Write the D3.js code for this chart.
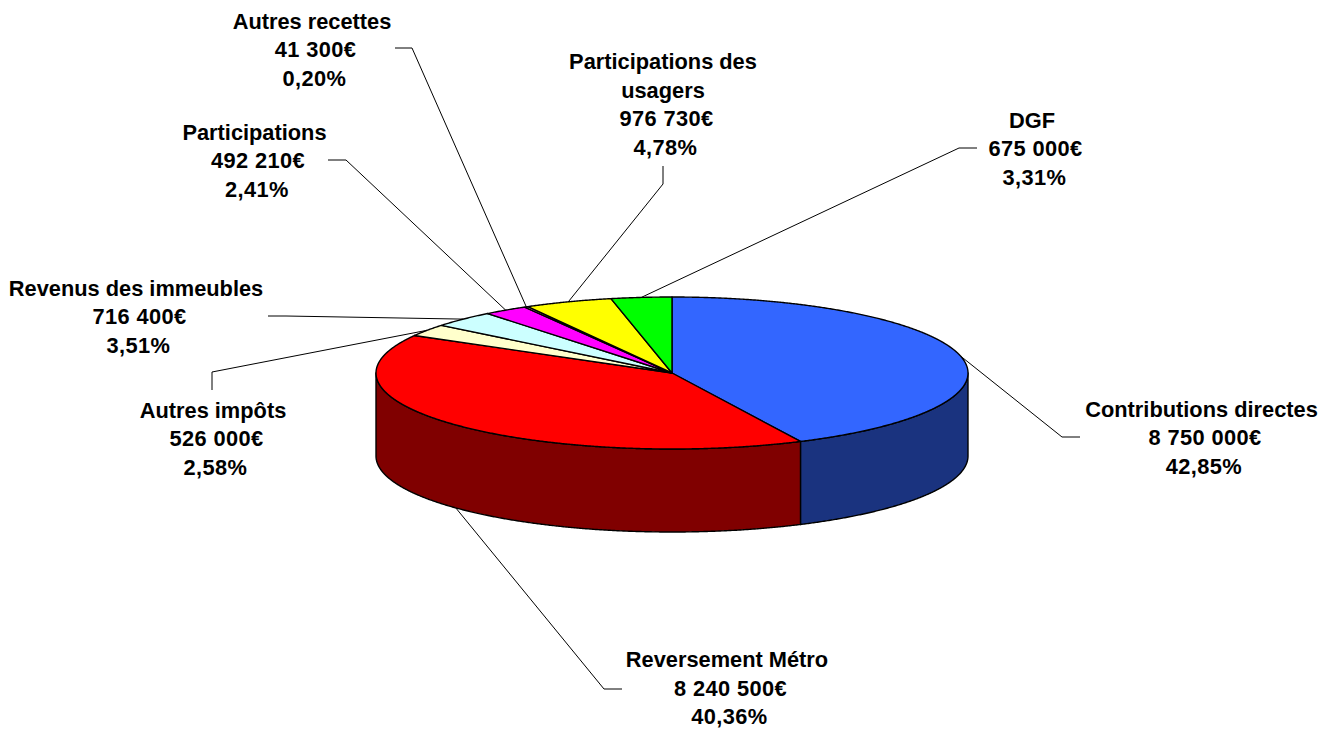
<!DOCTYPE html>
<html>
<head>
<meta charset="utf-8">
<script src="https://cdn.jsdelivr.net/npm/d3@7"></script>
<style>
  html, body { margin: 0; padding: 0; background: #fff; }
  text { font-family: "Liberation Sans", Arial, sans-serif; font-weight: bold; font-size: 21.8px; fill: #000; }
</style>
</head>
<body>
<svg id="chart" width="1335" height="729"></svg>
<script>
// values, clockwise from the top of the pie
var categories = ["Contributions directes", "Reversement Métro", "Autres impôts", "Revenus des immeubles", "Participations", "Autres recettes", "Participations des usagers", "DGF"];
var values = [8750000, 8240500, 526000, 716400, 492210, 41300, 976730, 675000];
var topColors = ["#3366ff", "#ff0000", "#ffffcc", "#ccffff", "#ff00ff", "#ff99cc", "#ffff00", "#00ff00"];
var sideColors = ["#1a337f", "#800000", "#80806a", "#6a8080", "#800080", "#804d66", "#808000", "#008000"];

// label placement: centre x, y of the value line, leader start and elbow
var labelX = [1201.5, 727, 213, 136, 254.5, 312, 663, 1032];
var labelY = [437.5, 688.2, 438.5, 316.5, 160.5, 49.5, 118.5, 148.5];
var leaderStart = [[1080, 437], [622, 689], [212, 390], [268, 316], [328, 160], [395, 48], [663, 166], [977, 148]];
var leaderElbow = [[1062, 437], [604, 689], [212, 372], [286, 316], [346, 160], [412, 48], [663, 184], [959, 148]];
var nameLines = [["Contributions directes"], ["Reversement Métro"], ["Autres impôts"], ["Revenus des immeubles"], ["Participations"], ["Autres recettes"], ["Participations des", "usagers"], ["DGF"]];

var depth = 83;

var svg = d3.select("#chart");

// the pie is an ellipse: unit circle mapped through two scales
var x = d3.scaleLinear().domain([-1, 1]).range([376, 968]);
var y = d3.scaleLinear().domain([-1, 1]).range([297, 449]);
var px = function (a) { return x(Math.sin(a)); };
var py = function (a) { return y(-Math.cos(a)); };

var slices = d3.pie().sort(null).value(function (d) { return d; })(values);
var total = d3.sum(values);

var fr = d3.formatLocale({ decimal: ",", thousands: " ", grouping: [3], currency: ["", "€"] });
var fmtValue = fr.format(",");
var fmtPct = fr.format(".2f");

var line = d3.line().x(function (d) { return d[0]; }).y(function (d) { return d[1]; });

function samples(a0, a1) {
    var n = Math.max(2, Math.ceil((a1 - a0) / 0.005));
    return d3.range(n + 1).map(function (i) { return a0 + (a1 - a0) * i / n; });
}

// leaders go under the pie
slices.forEach(function (s, i) {
    var mid = (s.startAngle + s.endAngle) / 2;
    var front = Math.cos(mid) < 0 && i == 1;   // only Reversement hangs off the wall
    var end = [px(mid), py(mid) + (front ? depth : 0)];
    svg.append("path")
        .attr("d", line([leaderStart[i], leaderElbow[i], end]))
        .attr("fill", "none")
        .attr("stroke", "#000")
        .attr("stroke-width", 1);
});

// front wall, only between 90 and 270 degrees
slices.forEach(function (s, i) {
    var a0 = Math.max(s.startAngle, Math.PI / 2);
    var a1 = Math.min(s.endAngle, Math.PI * 1.5);
    if (a1 <= a0) return;
    var upper = samples(a0, a1).map(function (a) { return [px(a), py(a)]; });
    var lower = samples(a0, a1).reverse().map(function (a) { return [px(a), py(a) + depth]; });
    svg.append("path")
        .attr("d", line(upper.concat(lower)) + "Z")
        .attr("fill", sideColors[i])
        .attr("stroke", "#000")
        .attr("stroke-width", 1.4)
        .attr("stroke-linejoin", "round");
});

// top face
slices.forEach(function (s, i) {
    var rim = samples(s.startAngle, s.endAngle).map(function (a) { return [px(a), py(a)]; });
    svg.append("path")
        .attr("d", line([[x(0), y(0)]].concat(rim)) + "Z")
        .attr("fill", topColors[i])
        .attr("stroke", "#000")
        .attr("stroke-width", 1.4)
        .attr("stroke-linejoin", "round");
});

// labels: name, amount, share
var lineGap = 28.5;
categories.forEach(function (c, i) {
    var rows = nameLines[i].concat([
        fmtValue(values[i]) + "€",
        fmtPct(values[i] / total * 100) + "%"
    ]);
    var valueRow = rows.length - 2;
    rows.forEach(function (r, k) {
        // the number rows sit a bit right of the name in the original
        var shift = k == valueRow ? 3.5 : (k > valueRow ? 2.5 : 0);
        svg.append("text")
            .attr("x", labelX[i] + shift)
            .attr("y", labelY[i] + (k - valueRow) * lineGap)
            .attr("dy", "0.35em")
            .attr("text-anchor", "middle")
            .attr("letter-spacing", k >= valueRow ? 0.4 : 0)
            .text(r);
    });
});
</script>
</body>
</html>
